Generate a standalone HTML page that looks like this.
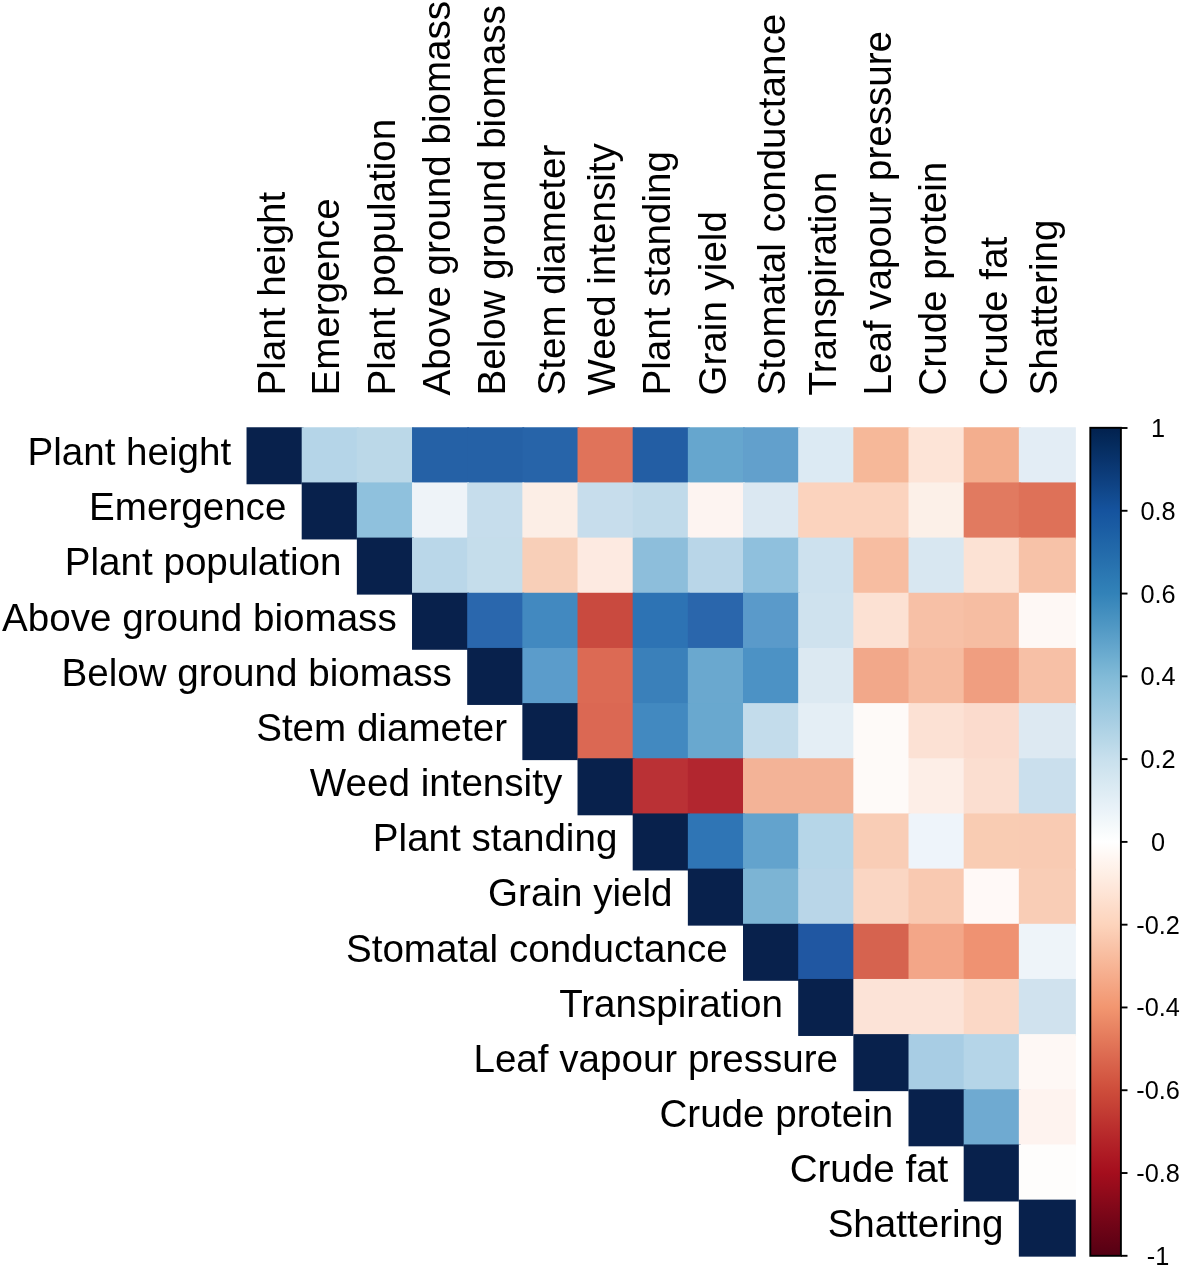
<!DOCTYPE html><html><head><meta charset="utf-8"><style>html,body{margin:0;padding:0;background:#fff;}svg{display:block;will-change:transform;}text{font-family:"Liberation Sans",sans-serif;fill:#000;}</style></head><body>
<svg width="1181" height="1267" viewBox="0 0 1181 1267">
<defs><linearGradient id="cb" x1="0" y1="1" x2="0" y2="0">
<stop offset="0.000" stop-color="#540013"/>
<stop offset="0.020" stop-color="#640215"/>
<stop offset="0.040" stop-color="#730517"/>
<stop offset="0.060" stop-color="#830819"/>
<stop offset="0.080" stop-color="#940b1b"/>
<stop offset="0.100" stop-color="#a40e1d"/>
<stop offset="0.120" stop-color="#ad1923"/>
<stop offset="0.140" stop-color="#b52529"/>
<stop offset="0.160" stop-color="#bd322f"/>
<stop offset="0.180" stop-color="#c54035"/>
<stop offset="0.200" stop-color="#ce4d3b"/>
<stop offset="0.220" stop-color="#d55b45"/>
<stop offset="0.240" stop-color="#dc6950"/>
<stop offset="0.260" stop-color="#e3785a"/>
<stop offset="0.280" stop-color="#ea8765"/>
<stop offset="0.300" stop-color="#f29670"/>
<stop offset="0.320" stop-color="#f4a27f"/>
<stop offset="0.340" stop-color="#f6ae8e"/>
<stop offset="0.360" stop-color="#f8bb9d"/>
<stop offset="0.380" stop-color="#fac7ad"/>
<stop offset="0.400" stop-color="#fdd4bc"/>
<stop offset="0.420" stop-color="#fddcc9"/>
<stop offset="0.440" stop-color="#fee5d7"/>
<stop offset="0.460" stop-color="#feeee4"/>
<stop offset="0.480" stop-color="#fff6f1"/>
<stop offset="0.500" stop-color="#ffffff"/>
<stop offset="0.520" stop-color="#f4f9fb"/>
<stop offset="0.540" stop-color="#e9f2f8"/>
<stop offset="0.560" stop-color="#deecf4"/>
<stop offset="0.580" stop-color="#d3e6f0"/>
<stop offset="0.600" stop-color="#c8e0ed"/>
<stop offset="0.620" stop-color="#b9d8e8"/>
<stop offset="0.640" stop-color="#abd0e4"/>
<stop offset="0.660" stop-color="#9dc9e0"/>
<stop offset="0.680" stop-color="#8fc2dc"/>
<stop offset="0.700" stop-color="#81bad7"/>
<stop offset="0.720" stop-color="#70afd1"/>
<stop offset="0.740" stop-color="#60a3cb"/>
<stop offset="0.760" stop-color="#5098c4"/>
<stop offset="0.780" stop-color="#418dbe"/>
<stop offset="0.800" stop-color="#3282b8"/>
<stop offset="0.820" stop-color="#2c79b3"/>
<stop offset="0.840" stop-color="#266fad"/>
<stop offset="0.860" stop-color="#2066a8"/>
<stop offset="0.880" stop-color="#1a5ca3"/>
<stop offset="0.900" stop-color="#15539e"/>
<stop offset="0.920" stop-color="#11498d"/>
<stop offset="0.940" stop-color="#0d3e7d"/>
<stop offset="0.960" stop-color="#09346d"/>
<stop offset="0.980" stop-color="#052b5d"/>
<stop offset="1.000" stop-color="#02214e"/>
</linearGradient></defs>
<rect x="246.53" y="427.26" width="57.01" height="57.01" fill="#08214C"/>
<rect x="301.69" y="427.26" width="57.00" height="57.01" fill="#B5D5E8"/>
<rect x="356.86" y="427.26" width="57.01" height="57.01" fill="#BBD8E8"/>
<rect x="412.02" y="427.26" width="57.01" height="57.01" fill="#2561A6"/>
<rect x="467.19" y="427.26" width="57.00" height="57.01" fill="#2561A6"/>
<rect x="522.36" y="427.26" width="57.01" height="57.01" fill="#2764A9"/>
<rect x="577.52" y="427.26" width="57.00" height="57.01" fill="#E0735A"/>
<rect x="632.69" y="427.26" width="57.00" height="57.01" fill="#235EA4"/>
<rect x="687.85" y="427.26" width="57.00" height="57.01" fill="#66A6CE"/>
<rect x="743.01" y="427.26" width="57.00" height="57.01" fill="#62A0CC"/>
<rect x="798.18" y="427.26" width="57.00" height="57.01" fill="#DCEAF3"/>
<rect x="853.34" y="427.26" width="57.01" height="57.01" fill="#F6B899"/>
<rect x="908.51" y="427.26" width="57.00" height="57.01" fill="#FDE4D7"/>
<rect x="963.68" y="427.26" width="57.00" height="57.01" fill="#F3AE8E"/>
<rect x="1018.84" y="427.26" width="57.00" height="57.01" fill="#E3EDF5"/>
<rect x="301.69" y="482.43" width="57.00" height="57.01" fill="#08214C"/>
<rect x="356.86" y="482.43" width="57.01" height="57.01" fill="#8FC1DD"/>
<rect x="412.02" y="482.43" width="57.01" height="57.01" fill="#EEF3F8"/>
<rect x="467.19" y="482.43" width="57.00" height="57.01" fill="#C6DDEC"/>
<rect x="522.36" y="482.43" width="57.01" height="57.01" fill="#FCEEE6"/>
<rect x="577.52" y="482.43" width="57.00" height="57.01" fill="#C7DDEC"/>
<rect x="632.69" y="482.43" width="57.00" height="57.01" fill="#C0DAEA"/>
<rect x="687.85" y="482.43" width="57.00" height="57.01" fill="#FDF4F1"/>
<rect x="743.01" y="482.43" width="57.00" height="57.01" fill="#DBE8F2"/>
<rect x="798.18" y="482.43" width="57.00" height="57.01" fill="#FBD3BE"/>
<rect x="853.34" y="482.43" width="57.01" height="57.01" fill="#FBD3BE"/>
<rect x="908.51" y="482.43" width="57.00" height="57.01" fill="#FCF0E8"/>
<rect x="963.68" y="482.43" width="57.00" height="57.01" fill="#E17A60"/>
<rect x="1018.84" y="482.43" width="57.00" height="57.01" fill="#DE7158"/>
<rect x="356.86" y="537.60" width="57.01" height="57.01" fill="#08214C"/>
<rect x="412.02" y="537.60" width="57.01" height="57.01" fill="#BAD7E9"/>
<rect x="467.19" y="537.60" width="57.00" height="57.01" fill="#C5DDEB"/>
<rect x="522.36" y="537.60" width="57.01" height="57.01" fill="#F8CFB8"/>
<rect x="577.52" y="537.60" width="57.00" height="57.01" fill="#FDEAE1"/>
<rect x="632.69" y="537.60" width="57.00" height="57.01" fill="#8DBEDB"/>
<rect x="687.85" y="537.60" width="57.00" height="57.01" fill="#B9D6E8"/>
<rect x="743.01" y="537.60" width="57.00" height="57.01" fill="#8FC0DD"/>
<rect x="798.18" y="537.60" width="57.00" height="57.01" fill="#CDE1EE"/>
<rect x="853.34" y="537.60" width="57.01" height="57.01" fill="#F7BDA1"/>
<rect x="908.51" y="537.60" width="57.00" height="57.01" fill="#D8E7F1"/>
<rect x="963.68" y="537.60" width="57.00" height="57.01" fill="#FCE2D4"/>
<rect x="1018.84" y="537.60" width="57.00" height="57.01" fill="#F7C2A8"/>
<rect x="412.02" y="592.77" width="57.01" height="57.01" fill="#08214C"/>
<rect x="467.19" y="592.77" width="57.00" height="57.01" fill="#2A67AD"/>
<rect x="522.36" y="592.77" width="57.01" height="57.01" fill="#4289C0"/>
<rect x="577.52" y="592.77" width="57.00" height="57.01" fill="#C94A3F"/>
<rect x="632.69" y="592.77" width="57.00" height="57.01" fill="#2D73B4"/>
<rect x="687.85" y="592.77" width="57.00" height="57.01" fill="#2A66AC"/>
<rect x="743.01" y="592.77" width="57.00" height="57.01" fill="#5A9ACA"/>
<rect x="798.18" y="592.77" width="57.00" height="57.01" fill="#CFE2EE"/>
<rect x="853.34" y="592.77" width="57.01" height="57.01" fill="#FCE1D3"/>
<rect x="908.51" y="592.77" width="57.00" height="57.01" fill="#F7C0A6"/>
<rect x="963.68" y="592.77" width="57.00" height="57.01" fill="#F6BDA2"/>
<rect x="1018.84" y="592.77" width="57.00" height="57.01" fill="#FEF8F5"/>
<rect x="467.19" y="647.94" width="57.00" height="57.01" fill="#08214C"/>
<rect x="522.36" y="647.94" width="57.01" height="57.01" fill="#5B9CCB"/>
<rect x="577.52" y="647.94" width="57.00" height="57.01" fill="#DC6A54"/>
<rect x="632.69" y="647.94" width="57.00" height="57.01" fill="#3A80BA"/>
<rect x="687.85" y="647.94" width="57.00" height="57.01" fill="#6AA8CF"/>
<rect x="743.01" y="647.94" width="57.00" height="57.01" fill="#4C92C5"/>
<rect x="798.18" y="647.94" width="57.00" height="57.01" fill="#DCE9F2"/>
<rect x="853.34" y="647.94" width="57.01" height="57.01" fill="#F2A88A"/>
<rect x="908.51" y="647.94" width="57.00" height="57.01" fill="#F6BBA0"/>
<rect x="963.68" y="647.94" width="57.00" height="57.01" fill="#F09E80"/>
<rect x="1018.84" y="647.94" width="57.00" height="57.01" fill="#F7C0A6"/>
<rect x="522.36" y="703.11" width="57.01" height="57.01" fill="#08214C"/>
<rect x="577.52" y="703.11" width="57.00" height="57.01" fill="#DB6853"/>
<rect x="632.69" y="703.11" width="57.00" height="57.01" fill="#4289C0"/>
<rect x="687.85" y="703.11" width="57.00" height="57.01" fill="#69A8CF"/>
<rect x="743.01" y="703.11" width="57.00" height="57.01" fill="#C3DCEB"/>
<rect x="798.18" y="703.11" width="57.00" height="57.01" fill="#E4EEF5"/>
<rect x="853.34" y="703.11" width="57.01" height="57.01" fill="#FEFAF8"/>
<rect x="908.51" y="703.11" width="57.00" height="57.01" fill="#FCE1D4"/>
<rect x="963.68" y="703.11" width="57.00" height="57.01" fill="#FBDBCD"/>
<rect x="1018.84" y="703.11" width="57.00" height="57.01" fill="#DDE9F2"/>
<rect x="577.52" y="758.28" width="57.00" height="57.01" fill="#08214C"/>
<rect x="632.69" y="758.28" width="57.00" height="57.01" fill="#BA3135"/>
<rect x="687.85" y="758.28" width="57.00" height="57.01" fill="#B2262F"/>
<rect x="743.01" y="758.28" width="57.00" height="57.01" fill="#F3B397"/>
<rect x="798.18" y="758.28" width="57.00" height="57.01" fill="#F3B397"/>
<rect x="853.34" y="758.28" width="57.01" height="57.01" fill="#FEFAF8"/>
<rect x="908.51" y="758.28" width="57.00" height="57.01" fill="#FDEEE7"/>
<rect x="963.68" y="758.28" width="57.00" height="57.01" fill="#FBDED0"/>
<rect x="1018.84" y="758.28" width="57.00" height="57.01" fill="#CADFED"/>
<rect x="632.69" y="813.45" width="57.00" height="57.01" fill="#08214C"/>
<rect x="687.85" y="813.45" width="57.00" height="57.01" fill="#2F75B5"/>
<rect x="743.01" y="813.45" width="57.00" height="57.01" fill="#63A3CD"/>
<rect x="798.18" y="813.45" width="57.00" height="57.01" fill="#B6D6E8"/>
<rect x="853.34" y="813.45" width="57.01" height="57.01" fill="#F9CDB6"/>
<rect x="908.51" y="813.45" width="57.00" height="57.01" fill="#EEF4FA"/>
<rect x="963.68" y="813.45" width="57.00" height="57.01" fill="#F9CCB3"/>
<rect x="1018.84" y="813.45" width="57.00" height="57.01" fill="#F9CBB3"/>
<rect x="687.85" y="868.62" width="57.00" height="57.01" fill="#08214C"/>
<rect x="743.01" y="868.62" width="57.00" height="57.01" fill="#7CB4D4"/>
<rect x="798.18" y="868.62" width="57.00" height="57.01" fill="#B9D6E8"/>
<rect x="853.34" y="868.62" width="57.01" height="57.01" fill="#FAD6C3"/>
<rect x="908.51" y="868.62" width="57.00" height="57.01" fill="#F9C9B1"/>
<rect x="963.68" y="868.62" width="57.00" height="57.01" fill="#FFF9F7"/>
<rect x="1018.84" y="868.62" width="57.00" height="57.01" fill="#F9CDB6"/>
<rect x="743.01" y="923.79" width="57.00" height="57.01" fill="#08214C"/>
<rect x="798.18" y="923.79" width="57.00" height="57.01" fill="#2057A2"/>
<rect x="853.34" y="923.79" width="57.01" height="57.01" fill="#D6634F"/>
<rect x="908.51" y="923.79" width="57.00" height="57.01" fill="#F3A688"/>
<rect x="963.68" y="923.79" width="57.00" height="57.01" fill="#EF9272"/>
<rect x="1018.84" y="923.79" width="57.00" height="57.01" fill="#EEF4F9"/>
<rect x="798.18" y="978.96" width="57.00" height="57.01" fill="#08214C"/>
<rect x="853.34" y="978.96" width="57.01" height="57.01" fill="#FCE3D7"/>
<rect x="908.51" y="978.96" width="57.00" height="57.01" fill="#FCE3D7"/>
<rect x="963.68" y="978.96" width="57.00" height="57.01" fill="#FBD8C6"/>
<rect x="1018.84" y="978.96" width="57.00" height="57.01" fill="#D0E2EE"/>
<rect x="853.34" y="1034.13" width="57.01" height="57.01" fill="#08214C"/>
<rect x="908.51" y="1034.13" width="57.00" height="57.01" fill="#A8CDE4"/>
<rect x="963.68" y="1034.13" width="57.00" height="57.01" fill="#B5D5E8"/>
<rect x="1018.84" y="1034.13" width="57.00" height="57.01" fill="#FEF8F5"/>
<rect x="908.51" y="1089.30" width="57.00" height="57.01" fill="#08214C"/>
<rect x="963.68" y="1089.30" width="57.00" height="57.01" fill="#6FAAD1"/>
<rect x="1018.84" y="1089.30" width="57.00" height="57.01" fill="#FEF3EF"/>
<rect x="963.68" y="1144.47" width="57.00" height="57.01" fill="#08214C"/>
<rect x="1018.84" y="1144.47" width="57.00" height="57.01" fill="#FEFDFC"/>
<rect x="1018.84" y="1199.64" width="57.00" height="57.01" fill="#08214C"/>
<text x="231.20" y="465.06" font-size="38.60" text-anchor="end">Plant height</text>
<text x="286.37" y="520.24" font-size="38.60" text-anchor="end">Emergence</text>
<text x="341.53" y="575.40" font-size="38.60" text-anchor="end">Plant population</text>
<text x="396.69" y="630.58" font-size="38.60" text-anchor="end">Above ground biomass</text>
<text x="451.86" y="685.74" font-size="38.60" text-anchor="end">Below ground biomass</text>
<text x="507.02" y="740.91" font-size="38.60" text-anchor="end">Stem diameter</text>
<text x="562.19" y="796.09" font-size="38.60" text-anchor="end">Weed intensity</text>
<text x="617.36" y="851.25" font-size="38.60" text-anchor="end">Plant standing</text>
<text x="672.52" y="906.42" font-size="38.60" text-anchor="end">Grain yield</text>
<text x="727.68" y="961.60" font-size="38.60" text-anchor="end">Stomatal conductance</text>
<text x="782.85" y="1016.76" font-size="38.60" text-anchor="end">Transpiration</text>
<text x="838.01" y="1071.93" font-size="38.60" text-anchor="end">Leaf vapour pressure</text>
<text x="893.18" y="1127.11" font-size="38.60" text-anchor="end">Crude protein</text>
<text x="948.35" y="1182.27" font-size="38.60" text-anchor="end">Crude fat</text>
<text x="1003.51" y="1237.44" font-size="38.60" text-anchor="end">Shattering</text>
<text transform="translate(285.00 395.50) rotate(-90)" font-size="38.60">Plant height</text>
<text transform="translate(339.20 395.50) rotate(-90)" font-size="38.60">Emergence</text>
<text transform="translate(395.30 395.50) rotate(-90)" font-size="38.60">Plant population</text>
<text transform="translate(449.50 395.50) rotate(-90)" font-size="38.60">Above ground biomass</text>
<text transform="translate(504.80 395.50) rotate(-90)" font-size="38.60">Below ground biomass</text>
<text transform="translate(564.70 395.50) rotate(-90)" font-size="38.60">Stem diameter</text>
<text transform="translate(615.30 395.50) rotate(-90)" font-size="38.60">Weed intensity</text>
<text transform="translate(669.80 395.50) rotate(-90)" font-size="38.60">Plant standing</text>
<text transform="translate(726.40 395.50) rotate(-90)" font-size="38.60">Grain yield</text>
<text transform="translate(785.40 395.50) rotate(-90)" font-size="38.60">Stomatal conductance</text>
<text transform="translate(836.10 395.50) rotate(-90)" font-size="38.60">Transpiration</text>
<text transform="translate(891.40 395.50) rotate(-90)" font-size="38.60">Leaf vapour pressure</text>
<text transform="translate(946.00 395.50) rotate(-90)" font-size="38.60">Crude protein</text>
<text transform="translate(1006.60 395.50) rotate(-90)" font-size="38.60">Crude fat</text>
<text transform="translate(1057.40 395.50) rotate(-90)" font-size="38.60">Shattering</text>
<rect x="1090.30" y="427.80" width="30.60" height="828.00" fill="url(#cb)" stroke="#000" stroke-width="1.9"/>
<line x1="1120.90" y1="428.00" x2="1127.5" y2="428.00" stroke="#000" stroke-width="1.9"/>
<text x="1158" y="437.00" font-size="25.3" text-anchor="middle">1</text>
<line x1="1120.90" y1="510.78" x2="1127.5" y2="510.78" stroke="#000" stroke-width="1.9"/>
<text x="1158" y="519.78" font-size="25.3" text-anchor="middle">0.8</text>
<line x1="1120.90" y1="593.56" x2="1127.5" y2="593.56" stroke="#000" stroke-width="1.9"/>
<text x="1158" y="602.56" font-size="25.3" text-anchor="middle">0.6</text>
<line x1="1120.90" y1="676.34" x2="1127.5" y2="676.34" stroke="#000" stroke-width="1.9"/>
<text x="1158" y="685.34" font-size="25.3" text-anchor="middle">0.4</text>
<line x1="1120.90" y1="759.12" x2="1127.5" y2="759.12" stroke="#000" stroke-width="1.9"/>
<text x="1158" y="768.12" font-size="25.3" text-anchor="middle">0.2</text>
<line x1="1120.90" y1="841.90" x2="1127.5" y2="841.90" stroke="#000" stroke-width="1.9"/>
<text x="1158" y="850.90" font-size="25.3" text-anchor="middle">0</text>
<line x1="1120.90" y1="924.68" x2="1127.5" y2="924.68" stroke="#000" stroke-width="1.9"/>
<text x="1158" y="933.68" font-size="25.3" text-anchor="middle">-0.2</text>
<line x1="1120.90" y1="1007.46" x2="1127.5" y2="1007.46" stroke="#000" stroke-width="1.9"/>
<text x="1158" y="1016.46" font-size="25.3" text-anchor="middle">-0.4</text>
<line x1="1120.90" y1="1090.24" x2="1127.5" y2="1090.24" stroke="#000" stroke-width="1.9"/>
<text x="1158" y="1099.24" font-size="25.3" text-anchor="middle">-0.6</text>
<line x1="1120.90" y1="1173.02" x2="1127.5" y2="1173.02" stroke="#000" stroke-width="1.9"/>
<text x="1158" y="1182.02" font-size="25.3" text-anchor="middle">-0.8</text>
<line x1="1120.90" y1="1255.80" x2="1127.5" y2="1255.80" stroke="#000" stroke-width="1.9"/>
<text x="1158" y="1264.80" font-size="25.3" text-anchor="middle">-1</text>
</svg></body></html>
